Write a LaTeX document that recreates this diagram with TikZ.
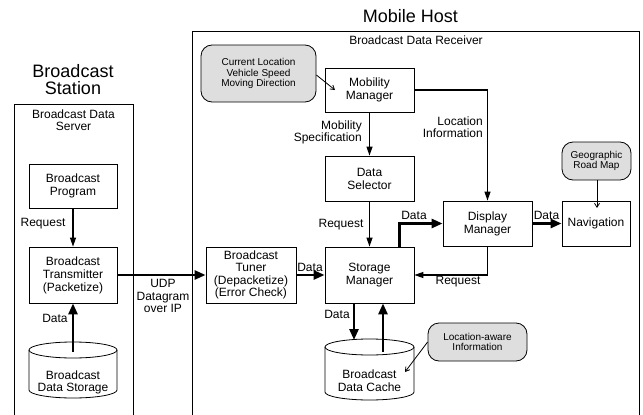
\documentclass[tikz,border=0pt]{standalone}
\usepackage{fontspec}
\setmainfont{Liberation Sans}
\usetikzlibrary{arrows.meta,calc}
\tikzset{
  boxnode/.style={draw, line width=0.8pt, inner sep=0pt, align=center,
    font=\fontsize{12}{13}\selectfont},
  graynode/.style={draw, line width=0.8pt, fill=black!13, rounded corners=11pt,
    inner sep=0pt, align=center, font=\fontsize{10}{10.5}\selectfont},
  lbl/.style={inner sep=0pt, align=center, font=\fontsize{12}{12.5}\selectfont},
  ttl/.style={inner sep=0pt, align=center, font=\fontsize{18}{17.5}\selectfont},
  thinarrow/.style={line width=1.1pt, -{Triangle[length=9pt,width=6pt]}},
  thickarrow/.style={line width=2.6pt, -{Triangle[length=11pt,width=9pt]}},
  notearrow/.style={line width=0.8pt, -{Straight Barb[length=4pt,width=5pt]}},
  frame/.style={line width=0.9pt},
  cyl/.style={line width=0.8pt}
}
\begin{document}
\begin{tikzpicture}[x=1pt,y=-1pt]
\useasboundingbox (0,0) rectangle (643,415);

% titles and frames
\node[ttl] (stationTitle) at (73,79.5) {Broadcast\\Station};
\node[ttl] (hostTitle) at (410.5,16) {Mobile Host};
\draw[frame] (14,420) -- (14,104) -- (133,104) -- (133,420);
\draw[frame] (192,420) -- (192,31) -- (639,31) -- (639,420);
\node[lbl] (serverTitle) at (73.5,120) {Broadcast Data\\Server};
\node[lbl] (receiverTitle) at (416,40) {Broadcast Data Receiver};

% station boxes
\node[boxnode, minimum width=88pt, minimum height=44pt] (prog) at (73,186) {Broadcast\\Program};
\node[boxnode, minimum width=88pt, minimum height=56pt] (trans) at (73,275) {Broadcast\\Transmitter\\(Packetize)};

% storage cylinder
\draw[cyl] (29,350) -- (29,390) arc[start angle=180,end angle=360,x radius=44pt,y radius=8pt] -- (117,350);
\draw[cyl] (73,350) ellipse[x radius=44pt,y radius=8pt];
\node[lbl, font=\fontsize{12}{11.7}\selectfont] (storage) at (73,382.5) {Broadcast\\Data Storage};
\coordinate (storeOut) at (73,352);

% receiver boxes
\node[boxnode, minimum width=90pt, minimum height=56pt, font=\fontsize{12}{12.3}\selectfont] (tuner) at (251,275) {Broadcast\\Tuner\\(Depacketize)\\(Error Check)};
\node[boxnode, minimum width=89pt, minimum height=44pt] (mob) at (369.5,90) {Mobility\\Manager};
\node[boxnode, minimum width=89pt, minimum height=45pt] (sel) at (369.5,178.5) {Data\\Selector};
\node[boxnode, minimum width=89pt, minimum height=56pt] (stor) at (369.5,275) {Storage\\Manager};
\node[boxnode, minimum width=89pt, minimum height=45pt] (disp) at (487.5,223.5) {Display\\Manager};
\node[boxnode, minimum width=68pt, minimum height=45pt] (nav) at (596,223.5) {Navigation};

% gray notes
\node[graynode, minimum width=115pt, minimum height=57pt] (cur) at (258.5,73.5) {Current Location\\Vehicle Speed\\Moving Direction};
\node[graynode, minimum width=69pt, minimum height=38pt] (geo) at (596.5,161) {Geographic\\Road Map};
\node[graynode, minimum width=99pt, minimum height=38pt] (locaware) at (477.5,342) {Location-aware\\Information};

% cache cylinder
\draw[cyl] (325,347) -- (325,392) arc[start angle=180,end angle=360,x radius=44.5pt,y radius=8pt] -- (414,347);
\draw[cyl] (369.5,347) ellipse[x radius=44.5pt,y radius=8pt];
\node[lbl] (cache) at (369.5,380.5) {Broadcast\\Data Cache};
\coordinate (cacheIn) at (354,340);
\coordinate (cacheOut) at (383,352);

% station connectors
\draw[thinarrow] (prog) -- (trans);
\node[lbl] (reqA) at (43,224) {Request};
\draw[thickarrow] (storeOut) -- (trans.south);
\node[lbl] (dataA) at (55,318) {Data};
\draw[thickarrow] (trans.east) -- (tuner.west);
\node[lbl] (udp) at (163,296) {UDP\\Datagram\\over IP};

% receiver connectors
\coordinate (mobIn) at (335,90);
\draw[notearrow] (cur.east) ++(0,1.5) -- (mobIn);
\draw[thinarrow] (mob) -- (sel);
\node[lbl, anchor=east, align=right] (mobspec) at (362,132.5) {Mobility\\Specification};
\draw[thinarrow] (mob.east) -| (disp.north);
\node[lbl, anchor=east, align=right] (locinfo) at (483,127) {Location\\Information};
\draw[thinarrow] (sel) -- (stor);
\node[lbl] (reqB) at (341,225) {Request};
\draw[thickarrow] (tuner.east) -- (stor.west);
\node[lbl] (dataB) at (310,267) {Data};
\draw[thickarrow] (stor.north east) ++(-15,0) |- (disp.west);
\node[lbl] (dataC) at (414,215) {Data};
\draw[thinarrow] (disp.south) |- (stor.east);
\node[lbl] (reqC) at (458,282) {Request};
\draw[thickarrow] (disp.east) -- (nav.west);
\node[lbl] (dataD) at (546.5,215) {Data};
\coordinate (navIn) at (597,208);
\draw[notearrow] (geo.south -| navIn) -- (navIn);
\draw[thickarrow] (stor.south -| cacheIn) -- (cacheIn);
\draw[thickarrow] (cacheOut) -- (stor.south -| cacheOut);
\node[lbl] (dataE) at (337,314) {Data};
\coordinate (cacheNote) at (405,372);
\draw[notearrow] (locaware.west) -- (cacheNote);
\end{tikzpicture}
\end{document}
